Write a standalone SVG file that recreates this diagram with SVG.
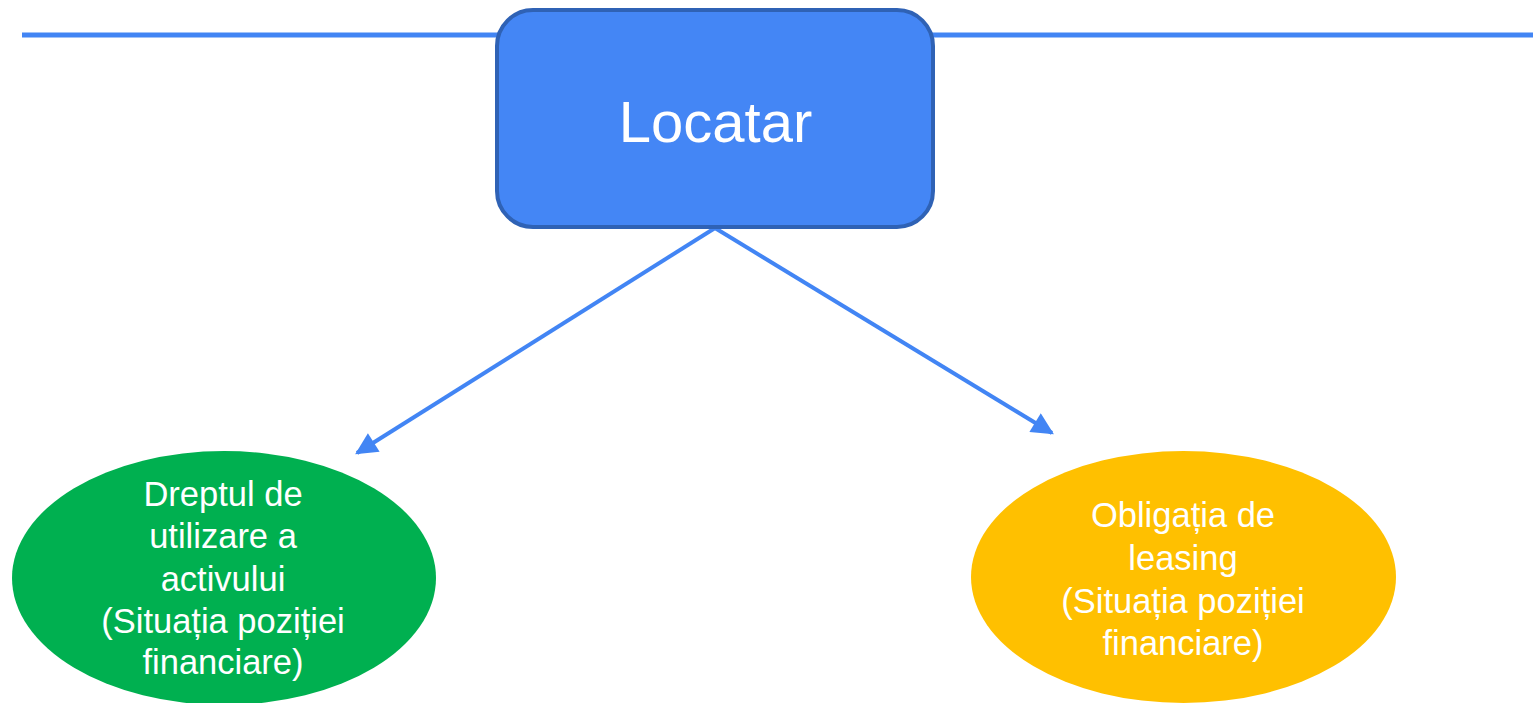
<svg xmlns="http://www.w3.org/2000/svg" width="1533" height="703" viewBox="0 0 1533 703">
<style>
.lbl{font-family:"Liberation Sans",Arial,sans-serif;fill:#ffffff;text-anchor:middle}
.conn{stroke:#4285F4;stroke-width:4;fill:none}
</style>
<defs>
<marker id="ah" viewBox="0 0 10 10" refX="9" refY="5" markerWidth="6" markerHeight="5.5" markerUnits="strokeWidth" orient="auto">
<path d="M0,0 L10,5 L0,10 Z" fill="#4285F4"/>
</marker>
</defs>
<rect width="1533" height="703" fill="#ffffff"/>
<g id="topline"><line x1="22" y1="35" x2="1533" y2="35" stroke="#4285F4" stroke-width="5"/></g>
<g id="connectors">
<line class="conn" x1="715" y1="228" x2="357" y2="453" marker-end="url(#ah)"/>
<line class="conn" x1="715" y1="228" x2="1052" y2="433" marker-end="url(#ah)"/>
</g>
<g id="locatar">
<rect x="497" y="10" width="436" height="217" rx="36" fill="#4486F5" stroke="#2F62B5" stroke-width="4"/>
<text class="lbl" x="715.5" y="142" font-size="58">Locatar</text>
</g>
<g id="drept">
<ellipse cx="224" cy="578" rx="212" ry="127" fill="#00B050"/>
<text class="lbl" font-size="34.5"><tspan x="223" y="506">Dreptul de</tspan><tspan x="223" y="548">utilizare a</tspan><tspan x="223" y="591">activului</tspan><tspan x="223" y="633">(Situația poziției</tspan><tspan x="223" y="674">financiare)</tspan></text>
</g>
<g id="obligatia">
<ellipse cx="1183.5" cy="577" rx="212.5" ry="126" fill="#FFC000"/>
<text class="lbl" font-size="34.5"><tspan x="1183" y="527">Obligația de</tspan><tspan x="1183" y="570">leasing</tspan><tspan x="1183" y="613">(Situația poziției</tspan><tspan x="1183" y="655">financiare)</tspan></text>
</g>
</svg>
